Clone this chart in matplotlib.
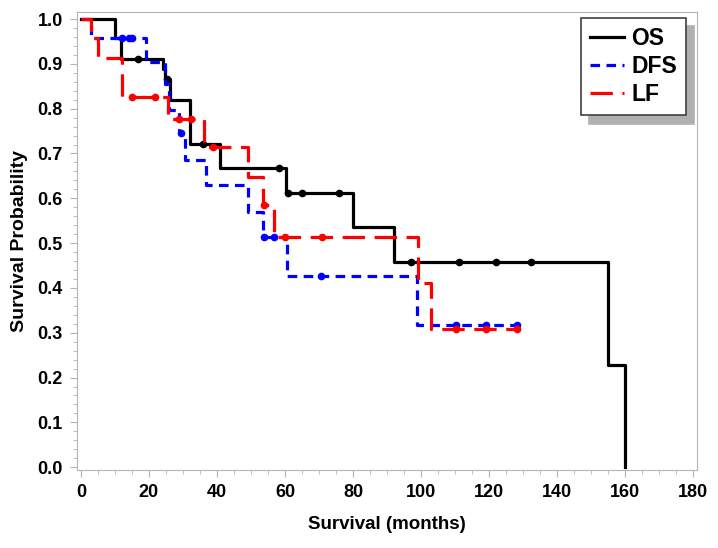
import numpy as np
import matplotlib
matplotlib.use("Agg")
import matplotlib.pyplot as plt
from matplotlib.ticker import MultipleLocator

# Kaplan-Meier step points (time in months, survival) and censor times
os_t = [0, 9.9, 11.9, 24.2, 24.8, 26.1, 32.0, 40.9, 60.2, 80.0, 92.0, 155.0, 160.0]
os_s = [1.0, 0.957, 0.911, 0.889, 0.866, 0.819, 0.721, 0.667, 0.612, 0.536, 0.457, 0.228, 0.0]
os_cens = [16.9, 25.2, 35.8, 58.1, 61.0, 65.1, 75.9, 97.0, 111.2, 122.0, 132.3]

dfs_t = [0, 3.0, 19.2, 24.7, 26.0, 28.9, 30.5, 36.7, 49.1, 53.6, 60.7, 98.7, 128.1]
dfs_s = [1.0, 0.957, 0.905, 0.856, 0.797, 0.745, 0.685, 0.629, 0.57, 0.513, 0.426, 0.317, 0.317]
dfs_cens = [12.0, 14.0, 15.0, 29.3, 53.8, 56.8, 70.6, 110.2, 119.0, 128.1]

lf_t = [0, 3.0, 5.0, 12.0, 25.5, 36.3, 49.2, 53.6, 56.8, 99.2, 102.9, 128.1]
lf_s = [1.0, 0.957, 0.913, 0.826, 0.777, 0.715, 0.648, 0.586, 0.513, 0.41, 0.308, 0.308]
lf_cens = [14.9, 21.8, 28.9, 32.3, 38.9, 53.8, 60.0, 70.8, 110.2, 119.0, 128.1]

plt.rcParams["font.family"] = ["Liberation Sans", "DejaVu Sans"]
plt.rcParams["font.weight"] = "bold"


def step_value(t, s, x):
    idx = np.searchsorted(t, x, side="right") - 1
    return np.asarray(s)[idx]


fig = plt.figure(figsize=(7.18, 5.48), dpi=100)
ax = fig.add_axes([0.107, 0.142, 0.864, 0.836])

curves = [
    ("OS", os_t, os_s, os_cens, "black", "-"),
    ("DFS", dfs_t, dfs_s, dfs_cens, "#0000ff", (0, (3, 2))),
    ("LF", lf_t, lf_s, lf_cens, "#ff0000", (0, (7, 3))),
]

for name, t, s, cens, color, ls in curves:
    ax.step(t, s, where="post", color=color, linestyle=ls, lw=2.3, label=name)
    ax.plot(cens, step_value(t, s, cens), "o", color=color, ms=4.5, ls="none")

ax.set_xlim(-1.2, 181.2)
ax.set_ylim(-0.0067, 1.0156)
ax.xaxis.set_major_locator(MultipleLocator(20))
ax.xaxis.set_minor_locator(MultipleLocator(5))
ax.yaxis.set_major_locator(MultipleLocator(0.1))
ax.yaxis.set_minor_locator(MultipleLocator(0.02))
ax.yaxis.set_major_formatter(matplotlib.ticker.FormatStrFormatter("%.1f"))

grey = "#b4b4b4"
for sp in ax.spines.values():
    sp.set_color(grey)
ax.tick_params(which="both", color=grey, direction="out")
ax.tick_params(which="major", length=5, labelsize=13, pad=5)
ax.tick_params(which="minor", length=3)

ax.set_xlabel("Survival (months)", fontsize=13.5, fontweight="bold", labelpad=11)
ax.set_ylabel("Survival Probability", fontsize=14, fontweight="bold", labelpad=7)

leg = ax.legend(loc="upper right", bbox_to_anchor=(0.982, 0.987), borderaxespad=0,
                fancybox=False,
                shadow={"color": "#b0b0b0", "alpha": 1.0, "ox": 6, "oy": -6},
                edgecolor="#404040", fontsize=16.5, handlelength=1.5,
                handletextpad=0.3, borderpad=0.4, labelspacing=0.22,
                framealpha=1.0)
leg.get_frame().set_linewidth(1.2)
for txt in leg.get_texts():
    txt.set_fontweight("bold")

fig.savefig("out.png", dpi=100)
